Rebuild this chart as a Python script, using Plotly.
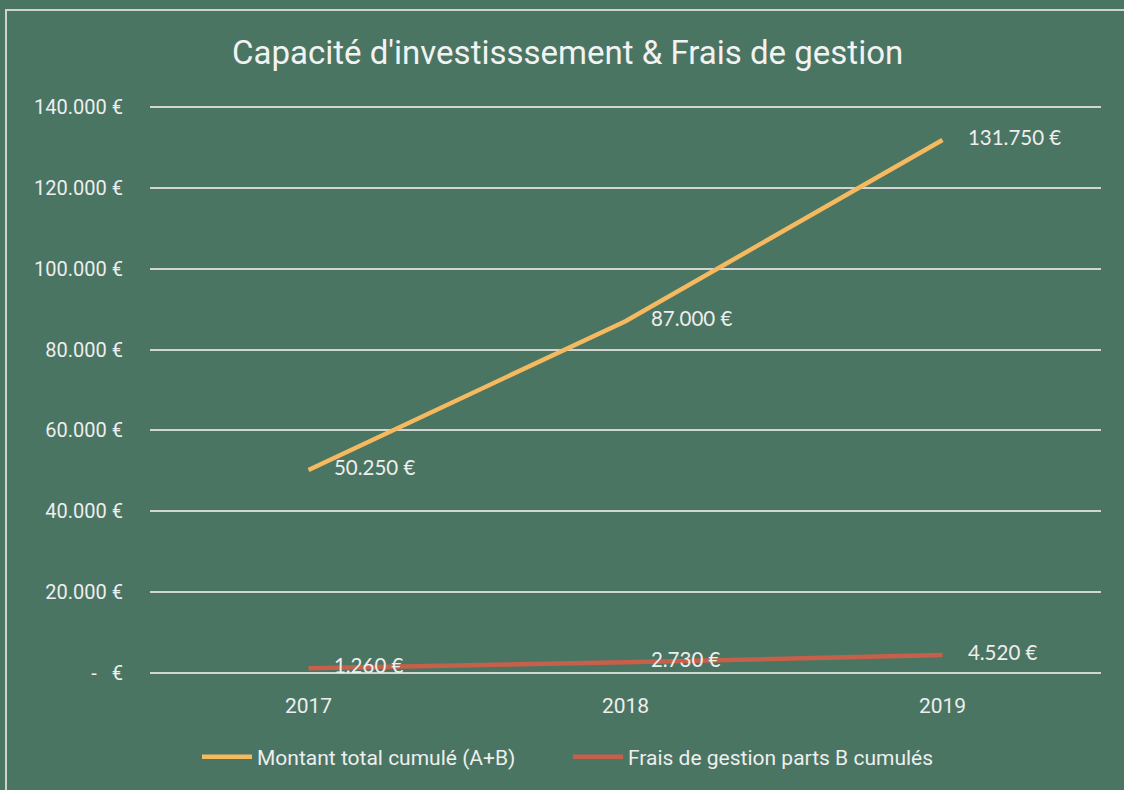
import plotly.graph_objects as go

years = ["2017", "2018", "2019"]
montant_total = [50250, 87000, 131750]
frais_gestion = [1260, 2730, 4520]
montant_labels = ["50.250 €", "87.000 €", "131.750 €"]
frais_labels = ["1.260 €", "2.730 €", "4.520 €"]
y_tickvals = [0, 20000, 40000, 60000, 80000, 100000, 120000, 140000]
y_ticktext = ["-\u00a0\u00a0\u00a0€", "20.000 €", "40.000 €", "60.000 €", "80.000 €",
              "100.000 €", "120.000 €", "140.000 €"]

BG = "#4a7563"
YELLOW = "#f5b95f"
RED = "#c7604a"
GRID = "#d4d4d4"
TXT = "#eeeeee"
COND = "Roboto, sans-serif"
LABELF = "Lato, Open Sans, sans-serif"

fig = go.Figure()
fig.add_trace(go.Scatter(x=years, y=montant_total, mode="lines",
                         name="Montant total cumulé (A+B)",
                         line=dict(color=YELLOW, width=4.5)))
fig.add_trace(go.Scatter(x=years, y=frais_gestion, mode="lines",
                         name="Frais de gestion parts B cumulés",
                         line=dict(color=RED, width=4.5)))

# data labels: invisible markers push the text to the right of each point
for ys, labs in [(montant_total, montant_labels), (frais_gestion, frais_labels)]:
    fig.add_trace(go.Scatter(x=years, y=ys, mode="markers+text", text=labs,
                             textposition="middle right",
                             marker=dict(size=39, color="rgba(0,0,0,0)"),
                             textfont=dict(family=LABELF, size=20.5, color=TXT),
                             showlegend=False, hoverinfo="skip", cliponaxis=False))

fig.add_shape(type="rect", xref="paper", yref="paper",
              x0=(6 - 150) / 951, x1=1.06, y0=-0.3, y1=(675 - 10) / 570,
              line=dict(color="#d0d0d0", width=2), fillcolor="rgba(0,0,0,0)", layer="below")

fig.update_layout(
    width=1124, height=790,
    paper_bgcolor=BG, plot_bgcolor=BG,
    margin=dict(l=150, r=23, t=105, b=115),
    title=dict(text="Capacité d'investisssement & Frais de gestion",
               x=0.505, xanchor="center", y=(790 - 52) / 790, yanchor="middle",
               font=dict(family=COND, size=33, color="#f2f2f2")),
    showlegend=True,
    legend=dict(orientation="h", x=(197 - 150) / 951, xanchor="left",
                y=(675 - 757) / 570, yanchor="middle",
                font=dict(family=COND, size=21, color=TXT), bgcolor="rgba(0,0,0,0)",
                entrywidth=306, entrywidthmode="pixels", itemwidth=50),
    xaxis=dict(type="category", range=[-0.5, 2.5], showgrid=False, zeroline=False,
               showline=False, ticks="", ticklabelstandoff=16,
               tickfont=dict(family=COND, size=21, color=TXT)),
    yaxis=dict(range=[-400, 140400], tickvals=y_tickvals, ticktext=y_ticktext,
               showgrid=True, gridcolor=GRID, gridwidth=2, zeroline=False,
               showline=False, ticks="", ticklabelstandoff=26,
               tickfont=dict(family=COND, size=20, color=TXT)),
)

fig.write_html("out.html", config={"displayModeBar": False},
               post_script="document.body.style.margin='0';document.body.style.background='%s';" % BG)
